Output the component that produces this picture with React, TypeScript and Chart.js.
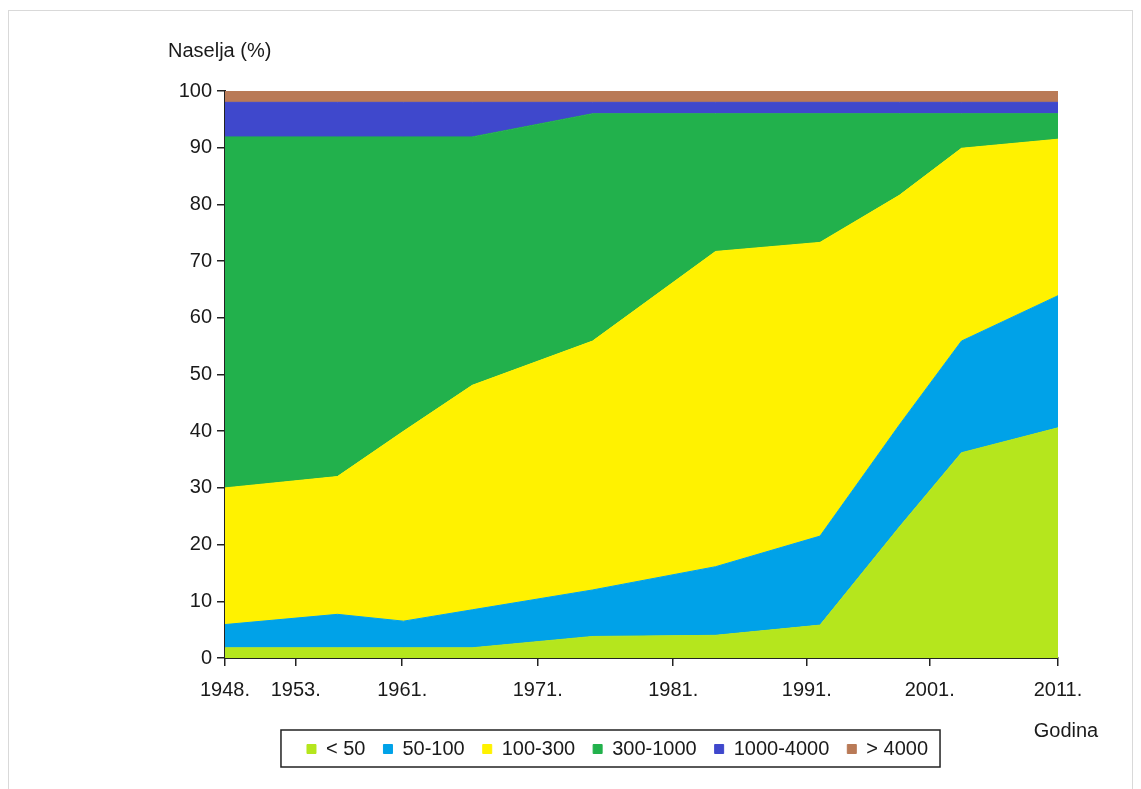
import React, { useEffect, useRef } from 'react';
import { Chart, registerables } from 'chart.js';

Chart.register(...registerables);

// ---- data ----
const seriesNames = ['< 50', '50-100', '100-300', '300-1000', '1000-4000', '> 4000'];
const seriesColors = ['#b5e61d', '#00a2e8', '#fff200', '#22b14c', '#3f48cc', '#b97a57'];

const years = [1948, 1956.5, 1961.5, 1966.7, 1975.8, 1985.1, 1993, 1999, 2003.7, 2011];

const under50 = [1.8, 1.8, 1.8, 1.8, 3.8, 4.0, 5.8, 23.1, 36.2, 40.6];
const from50to100 = [4.1, 5.9, 4.7, 6.7, 8.2, 12.1, 15.7, 18.0, 19.7, 23.3];
const from100to300 = [24.1, 24.3, 33.5, 39.6, 43.9, 55.6, 51.8, 40.5, 34.0, 27.6];
const from300to1000 = [61.9, 59.9, 51.9, 43.8, 40.1, 24.3, 22.7, 14.4, 6.1, 4.5];
const from1000to4000 = [6.1, 6.1, 6.1, 6.1, 2.0, 2.0, 2.0, 2.0, 2.0, 2.0];
const over4000 = [2.0, 2.0, 2.0, 2.0, 2.0, 2.0, 2.0, 2.0, 2.0, 2.0];

const seriesValues = [under50, from50to100, from100to300, from300to1000, from1000to4000, over4000];

const xTickValues = [1948, 1953.35, 1961.4, 1971.65, 1981.9, 1992.0, 2001.3, 2011];
const xTickLabels = ['1948.', '1953.', '1961.', '1971.', '1981.', '1991.', '2001.', '2011.'];

const yTitle = 'Naselja (%)';
const xTitle = 'Godina';

const FONT = "'Liberation Sans', Arial, Helvetica, sans-serif";
const TEXT = '#1a1a1a';

const decorPlugin = {
  id: 'decor',
  afterDraw(chart: any) {
    const { ctx, chartArea, legend } = chart;
    ctx.save();
    ctx.font = `20px ${FONT}`;
    ctx.fillStyle = TEXT;
    ctx.textAlign = 'left';
    ctx.textBaseline = 'alphabetic';
    ctx.fillText(yTitle, chartArea.left - 57, chartArea.top - 34);
    ctx.textAlign = 'center';
    ctx.textBaseline = 'middle';
    ctx.fillText(xTitle, chartArea.right + 8, chartArea.bottom + 73);

    const boxes = legend && legend.legendHitBoxes;
    if (boxes && boxes.length) {
      const first = boxes[0];
      const last = boxes[boxes.length - 1];
      const cy = first.top + first.height / 2;
      const l = first.left - 26;
      const r = last.left + last.width + 12;
      ctx.strokeStyle = '#222';
      ctx.lineWidth = 1.5;
      ctx.strokeRect(l, cy - 19, r - l, 37);
    }
    ctx.restore();
  },
};

export default function App() {
  const canvasRef = useRef<HTMLCanvasElement | null>(null);

  useEffect(() => {
    if (!canvasRef.current) return;
    Chart.defaults.font.family = FONT;
    Chart.defaults.font.size = 20;
    Chart.defaults.color = TEXT;

    const datasets = seriesNames.map((name, si) => ({
      label: name,
      data: years.map((x, i) => ({ x, y: seriesValues[si][i] })),
      backgroundColor: seriesColors[si],
      borderColor: seriesColors[si],
      borderWidth: 1,
      pointRadius: 0,
      pointHoverRadius: 0,
      tension: 0,
      fill: si === 0 ? 'origin' : '-1',
    }));

    const chart = new Chart(canvasRef.current, {
      type: 'line',
      data: { datasets },
      plugins: [decorPlugin],
      options: {
        animation: false,
        responsive: true,
        maintainAspectRatio: false,
        layout: { padding: { top: 80, left: 168, right: 74, bottom: 20 } },
        plugins: {
          tooltip: { enabled: false },
          legend: {
            position: 'bottom',
            labels: {
              boxWidth: 9,
              boxHeight: 9,
              padding: 18,
              color: TEXT,
              font: { family: FONT, size: 20 },
            },
          },
        },
        scales: {
          x: {
            type: 'linear',
            min: 1948,
            max: 2011,
            afterBuildTicks: (scale: any) => {
              scale.ticks = xTickValues.map((v) => ({ value: v }));
            },
            afterFit: (scale: any) => {
              scale.height = 63;
            },
            grid: {
              drawOnChartArea: false,
              drawTicks: true,
              tickLength: 8,
              color: '#222',
              lineWidth: 1.5,
            },
            border: { display: true, color: '#222', width: 2 },
            ticks: {
              autoSkip: false,
              maxRotation: 0,
              minRotation: 0,
              padding: 12,
              color: TEXT,
              font: { family: FONT, size: 20 },
              callback: (_v: any, i: number) => xTickLabels[i],
            },
          },
          y: {
            type: 'linear',
            stacked: true,
            min: 0,
            max: 100,
            afterFit: (scale: any) => {
              scale.width = 48;
            },
            grid: {
              drawOnChartArea: false,
              drawTicks: true,
              tickLength: 8,
              color: '#222',
              lineWidth: 1.5,
            },
            border: { display: true, color: '#222', width: 2 },
            ticks: {
              stepSize: 10,
              padding: 5,
              color: TEXT,
              font: { family: FONT, size: 20 },
            },
          },
        },
      },
    } as any);

    return () => chart.destroy();
  }, []);

  return (
    <div
      style={{
        position: 'absolute',
        left: 8,
        top: 10,
        width: 1125,
        height: 779,
        boxSizing: 'border-box',
        border: '1px solid #d9d9d9',
        borderBottom: 'none',
        background: '#fff',
      }}
    >
      <div style={{ position: 'relative', width: 1123, height: 778 }}>
        <canvas ref={canvasRef} />
      </div>
    </div>
  );
}
